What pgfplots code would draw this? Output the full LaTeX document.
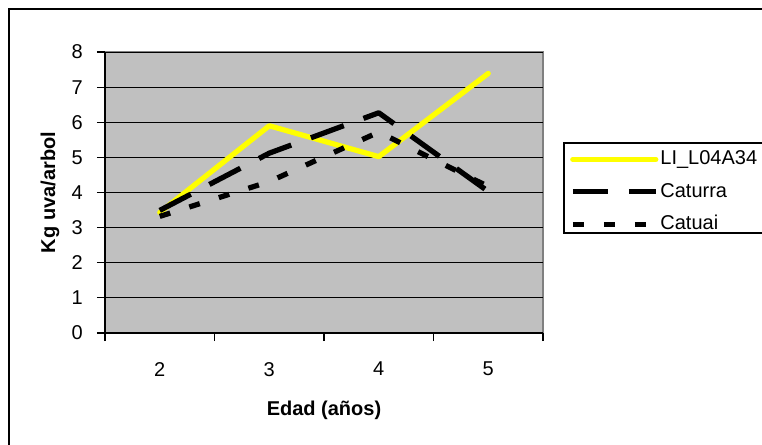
\documentclass[border=0pt]{standalone}
\usepackage{fontspec}
\setmainfont{Liberation Sans}
\usepackage{pgfplots}
\pgfplotsset{compat=1.18}
\definecolor{bgray}{HTML}{C0C0C0}
\definecolor{bordergray}{HTML}{808080}
\definecolor{yel}{HTML}{FFFF00}
\begin{document}
\begin{tikzpicture}
\useasboundingbox (0,0) rectangle (762bp,445bp);
\clip (0,0) rectangle (762bp,445bp);
\draw[line width=1.2bp, black] (9bp,-10bp) -- (9bp,436bp) -- (800bp,436bp);
\begin{axis}[
  at={(105bp,112bp)}, anchor=south west,
  scale only axis, width=438bp, height=281bp,
  xmin=1.5, xmax=5.5, ymin=0, ymax=8,
  axis lines=left,
  axis line style={-, line width=1.5bp, black},
  axis background/.style={fill=bgray, draw=bordergray, line width=2bp},
  ytick={0,1,...,8},
  ymajorgrids,
  major grid style={black, line width=0.9bp},
  xtick={1.5,2.5,3.5,4.5,5.5},
  xticklabels={},
  extra x ticks={2,3,4,5},
  extra x tick labels={2,3,4,5},
  extra x tick style={major tick length=0pt, grid=none},
  tick align=outside,
  major tick length=8bp,
  tick style={black, line width=1.2bp},
  /pgf/number format/assume math mode=true,
  tick label style={font=\fontsize{20bp}{24bp}\selectfont},
  yticklabel style={inner sep=0pt, xshift=-14bp},
  xticklabel style={inner sep=0pt, yshift=-29bp},
  xlabel={\textbf{Edad (años)}},
  ylabel={\textbf{Kg uva/arbol}},
  label style={font=\fontsize{20bp}{24bp}\selectfont},
  xlabel style={at={(axis description cs:0.5,0)}, anchor=center, yshift=-77bp},
  ylabel style={at={(axis description cs:0,0.5)}, anchor=center, yshift=55bp},
  legend style={at={(1.0479,0.6762)}, anchor=north west, draw=none, fill=none,
    font=\fontsize{20bp}{24bp}\selectfont,
    inner xsep=6bp, inner ysep=0pt, row sep=0pt,
    nodes={inner xsep=2bp, inner ysep=6.7bp, text height=15bp, text depth=4bp}},
  legend cell align=left,
  legend image code/.code={\draw[#1] (0bp,0bp) -- (83bp,0bp);},
]
\addplot[yel, line width=5.25bp, line cap=round, line join=round] coordinates {(2,3.43) (3,5.90) (4,5.02) (5,7.39)};
\addlegendentry{LI\_L04A34}
\addplot[black, line width=5.25bp, dash pattern=on 35bp off 21bp, line join=round] coordinates {(2,3.49) (3,5.12) (4,6.27) (5,4.03)};
\addlegendentry{Caturra}
\addplot[black, line width=5.25bp, dash pattern=on 11bp off 20bp, line join=round] coordinates {(2,3.32) (3,4.31) (4,5.72) (5,4.17)};
\addlegendentry{Catuai}
\end{axis}
\draw[line width=1.2bp, black] (564bp,212bp) rectangle (800bp,302bp);
\end{tikzpicture}
\end{document}
